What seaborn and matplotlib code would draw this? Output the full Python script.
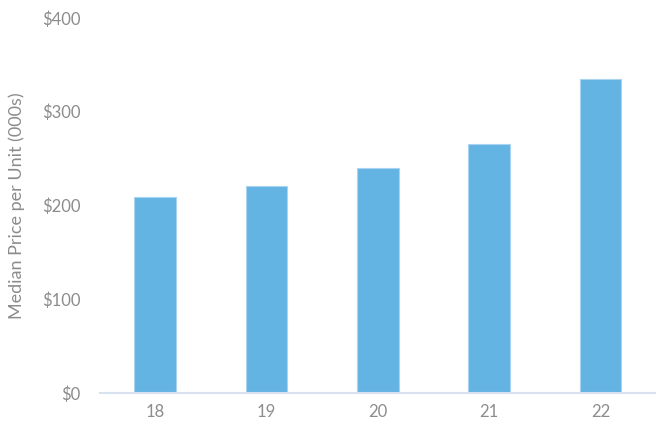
import matplotlib
matplotlib.use("Agg")
import matplotlib.pyplot as plt
import seaborn as sns
import pandas as pd

# 연도별 중위 가격 (천 달러)
years = ["18", "19", "20", "21", "22"]
prices = [209, 221, 240, 265, 335]
y_ticks = [0, 100, 200, 300, 400]

sns.set_style("white")
plt.rcParams["font.family"] = ["Lato", "DejaVu Sans"]

df = pd.DataFrame({"year": years, "price": prices})

fig = plt.figure(figsize=(6.56, 4.21), dpi=100)
ax = fig.add_axes([0.152, 0.0665, 0.848, 0.891])

sns.barplot(data=df, x="year", y="price", color="#63B3E3", saturation=1,
            width=0.375, edgecolor="#A9D3EF", linewidth=0.8, ax=ax)

ax.set_ylim(0, 400)
ax.set_xlim(-0.5, 4.5)
ax.set_yticks(y_ticks)
ax.set_yticklabels([f"${v}" for v in y_ticks])

grey = "#8C8C8C"
ax.tick_params(axis="both", colors=grey, labelsize=12, length=0)
ax.tick_params(axis="y", pad=14)
ax.tick_params(axis="x", pad=8)
ax.set_xlabel("")
ax.set_ylabel("Median Price per Unit (000s)", color=grey, fontsize=13, labelpad=12)

for side in ["top", "right", "left"]:
    ax.spines[side].set_visible(False)
ax.spines["bottom"].set_color("#D9E2F1")
ax.spines["bottom"].set_linewidth(1.5)

fig.savefig("out.png", dpi=100)
